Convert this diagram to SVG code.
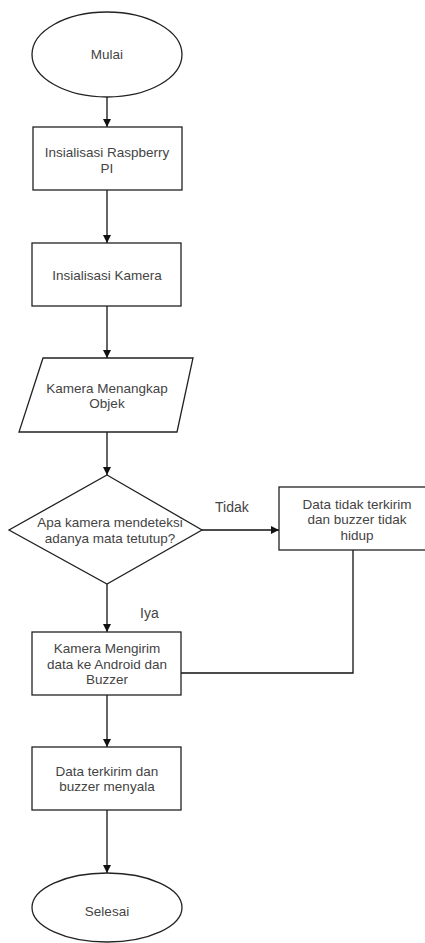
<svg xmlns="http://www.w3.org/2000/svg" width="425" height="943" viewBox="0 0 425 943">
<defs>
<style>
.s{fill:#fff;stroke:#222;stroke-width:1.3}
.t{font-family:"Liberation Sans",Arial,sans-serif;font-size:13.5px;fill:#444;text-anchor:middle;dominant-baseline:central}
.l{font-family:"Liberation Sans",Arial,sans-serif;font-size:14px;fill:#444}
.c{fill:none;stroke:#111;stroke-width:1.3}
</style>
<marker id="a" markerWidth="10" markerHeight="10" refX="9" refY="5" orient="auto" markerUnits="userSpaceOnUse">
<path d="M1,1 L9,5 L1,9 Z" fill="#111"/>
</marker>
</defs>
<rect width="425" height="943" fill="#fff"/>
<g id="connectors">
<path class="c" d="M107,97 V127" marker-end="url(#a)"/>
<path class="c" d="M107,190 V243" marker-end="url(#a)"/>
<path class="c" d="M107,306 V358" marker-end="url(#a)"/>
<path class="c" d="M107,432 V475" marker-end="url(#a)"/>
<path class="c" d="M202,530 H279" marker-end="url(#a)"/>
<path class="c" d="M107,584 V632" marker-end="url(#a)"/>
<path class="c" d="M353,550 V673 H181"/>
<path class="c" d="M107,695 V747" marker-end="url(#a)"/>
<path class="c" d="M107,810 V873" marker-end="url(#a)"/>
<text class="l" x="215" y="512">Tidak</text>
<text class="l" x="140" y="618">Iya</text>
</g>
<g id="mulai">
<ellipse class="s" cx="107" cy="54.5" rx="75" ry="42.5"/>
<text class="t" x="107" y="54">Mulai</text>
</g>
<g id="init-rpi">
<rect class="s" x="33" y="127" width="149" height="63"/>
<text class="t" x="107" y="152.5">Insialisasi Raspberry</text>
<text class="t" x="107" y="168">PI</text>
</g>
<g id="init-kamera">
<rect class="s" x="32" y="243" width="149" height="63"/>
<text class="t" x="107" y="275">Insialisasi Kamera</text>
</g>
<g id="tangkap">
<polygon class="s" points="43,358 193,358 177,432 19,432"/>
<text class="t" x="107" y="388">Kamera Menangkap</text>
<text class="t" x="107" y="403.5">Objek</text>
</g>
<g id="deteksi">
<polygon class="s" points="107,475 202,530 107,584 9,530"/>
<text class="t" x="110" y="522.5">Apa kamera mendeteksi</text>
<text class="t" x="110" y="538">adanya mata tetutup?</text>
</g>
<g id="tidak-kirim">
<rect class="s" x="279" y="487" width="160" height="63"/>
<text class="t" x="357" y="504">Data tidak terkirim</text>
<text class="t" x="357" y="519.5">dan buzzer tidak</text>
<text class="t" x="357" y="535">hidup</text>
</g>
<g id="kirim">
<rect class="s" x="32" y="632" width="149" height="63"/>
<text class="t" x="107" y="648.5">Kamera Mengirim</text>
<text class="t" x="107" y="664">data ke Android dan</text>
<text class="t" x="107" y="679.5">Buzzer</text>
</g>
<g id="terkirim">
<rect class="s" x="32" y="747" width="149" height="63"/>
<text class="t" x="107" y="771">Data terkirim dan</text>
<text class="t" x="107" y="786.5">buzzer menyala</text>
</g>
<g id="selesai">
<ellipse class="s" cx="107" cy="907.5" rx="75" ry="34.5"/>
<text class="t" x="107" y="911">Selesai</text>
</g>
</svg>
